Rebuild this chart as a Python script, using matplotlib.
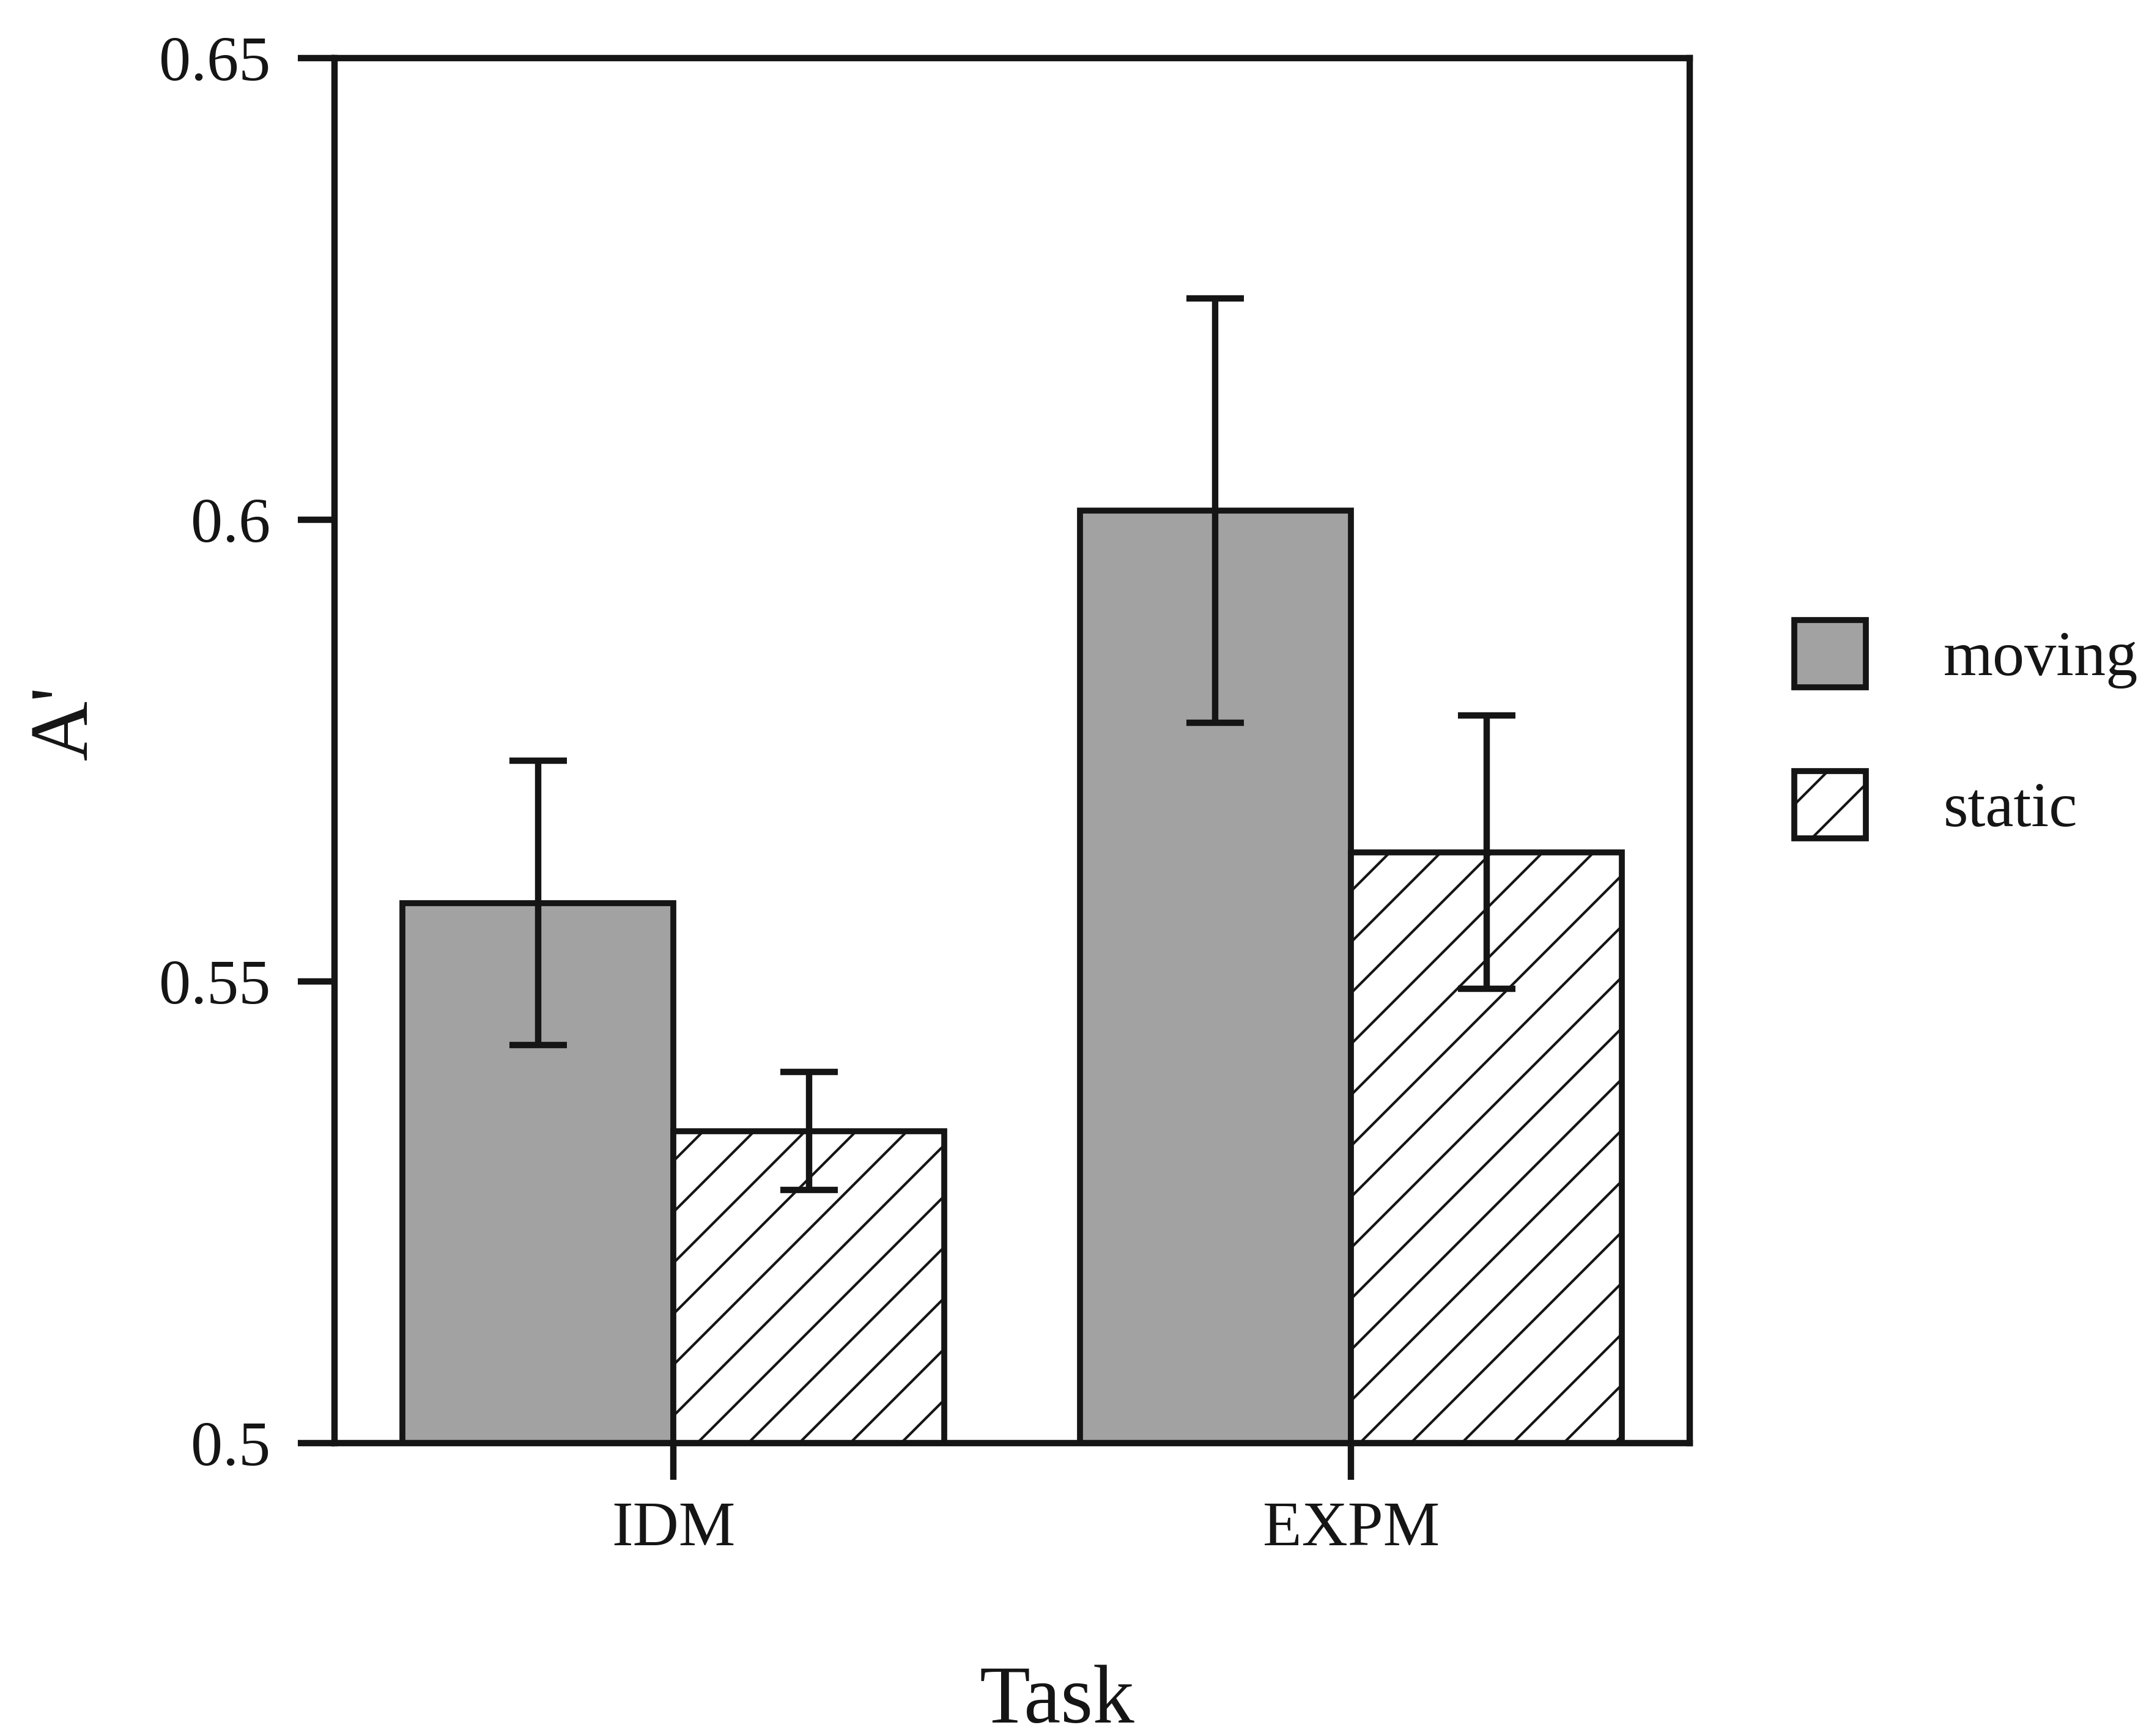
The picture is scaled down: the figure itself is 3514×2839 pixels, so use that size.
import matplotlib
matplotlib.use('Agg')
import matplotlib.pyplot as plt
from matplotlib.patches import Patch
import numpy as np

# ---- data ----
tasks = ['IDM', 'EXPM']
conditions = ['moving', 'static']
moving_means = [0.5585, 0.601]
moving_err = [0.0154, 0.023]
static_means = [0.5338, 0.564]
static_err = [0.0064, 0.0148]
yticks = [0.5, 0.55, 0.6, 0.65]
ytick_labels = ['0.5', '0.55', '0.6', '0.65']

plt.rcParams['font.family'] = ['Liberation Serif', 'DejaVu Serif']
plt.rcParams['hatch.linewidth'] = 0.6
plt.rcParams['hatch.color'] = '#111111'

GRAY = '#a2a2a2'
INK = '#151515'

fig = plt.figure(figsize=(7.028, 5.678), dpi=500)
ax = fig.add_axes([0.1557, 0.1687, 0.6306, 0.7978])

x = np.arange(len(tasks))
w = 0.4
ax.bar(x - w / 2, moving_means, w, color=GRAY, edgecolor=INK, linewidth=1.4, zorder=2)
ax.bar(x + w / 2, static_means, w, color='white', edgecolor=INK, linewidth=1.4,
       hatch='//', zorder=2)
ax.errorbar(x - w / 2, moving_means, yerr=moving_err, fmt='none', ecolor=INK,
            elinewidth=1.5, capsize=6.8, capthick=1.5, zorder=3)
ax.errorbar(x + w / 2, static_means, yerr=static_err, fmt='none', ecolor=INK,
            elinewidth=1.5, capsize=6.8, capthick=1.5, zorder=3)

ax.set_xlim(-0.5, 1.5)
ax.set_ylim(0.5, 0.65)
ax.set_yticks(yticks)
ax.set_yticklabels(ytick_labels)
ax.set_xticks(x)
ax.set_xticklabels(tasks)

for s in ax.spines.values():
    s.set_linewidth(1.5)
    s.set_color(INK)
ax.tick_params(axis='y', length=8.6, width=1.5, pad=6.5, labelsize=15, colors=INK)
ax.tick_params(axis='x', length=8.6, width=1.5, pad=5.0, labelsize=15, colors=INK)

ax.set_xlabel('Task', fontsize=19.5, color=INK)
ax.xaxis.set_label_coords(0.533, -0.160)
ax.set_ylabel("A'", fontsize=19.5, color=INK)
ax.yaxis.set_label_coords(-0.170, 0.52)

handles = [Patch(facecolor=GRAY, edgecolor=INK, linewidth=1.4),
           Patch(facecolor='white', edgecolor=INK, linewidth=1.4, hatch='//')]
fig.legend(handles, conditions, loc='upper left', bbox_to_anchor=(0.835, 0.643),
           frameon=False, fontsize=15, handlelength=1.12, handleheight=1.25,
           handletextpad=1.22, labelspacing=1.3, borderpad=0, borderaxespad=0,
           labelcolor=INK)

fig.savefig('out.png', dpi=500, facecolor='white')
